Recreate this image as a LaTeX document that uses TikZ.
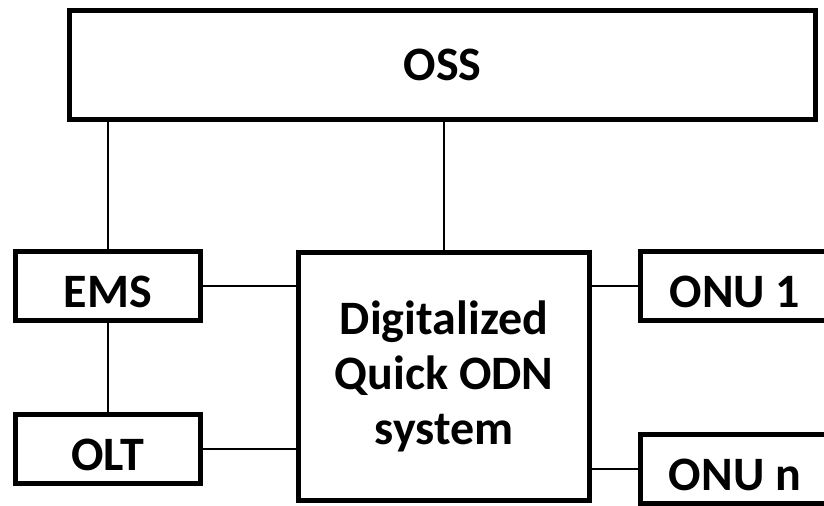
\documentclass[tikz,border=0pt]{standalone}
\usepackage{fontspec}
\setmainfont{Carlito}
\usepackage{tikz}
\usetikzlibrary{positioning}
\tikzset{
	unit/.style={draw, line width=2.5pt, fill=white, align=center, inner sep=0pt,
		font=\fontsize{24}{27.5}\selectfont\bfseries},
	small/.style={unit, minimum height=34.5pt, text height=21.4pt, text depth=0pt},
	link/.style={line width=1pt}
}

\begin{document}
\begin{tikzpicture}[x=0.5pt, y=-0.5pt]
	\useasboundingbox (0,0) rectangle (824,506);
	% management layer
	\node[unit, minimum width=373pt, minimum height=54.5pt] (oss) at (442.5,65) {OSS};
	\node[small, minimum width=92.5pt] (ems) at (108,286) {EMS};
	\node[small, minimum width=92.5pt] (olt) at (108,449.5) {OLT};
	% quick odn system
	\node[unit, minimum width=145.5pt, minimum height=124pt] (dq-odn) at (444,376.5) {Digitalized\\Quick ODN\\system};
	% user side
	\node[small, minimum width=95pt] (onu-1) at (735,286) {ONU 1};
	\node[small, minimum width=95pt] (onu-n) at (735,469) {ONU n};

	\draw[link] (ems.north) -- (ems.north |- oss.south);
	\draw[link] (dq-odn.north) -- (dq-odn.north |- oss.south);
	\draw[link] (ems.south) -- (olt.north);
	\draw[link] (ems.east) -- (ems.east -| dq-odn.west);
	\draw[link] (olt.east) -- (olt.east -| dq-odn.west);
	\draw[link] (onu-1.west -| dq-odn.east) -- (onu-1.west);
	\draw[link] (onu-n.west -| dq-odn.east) -- (onu-n.west);
\end{tikzpicture}
\end{document}
